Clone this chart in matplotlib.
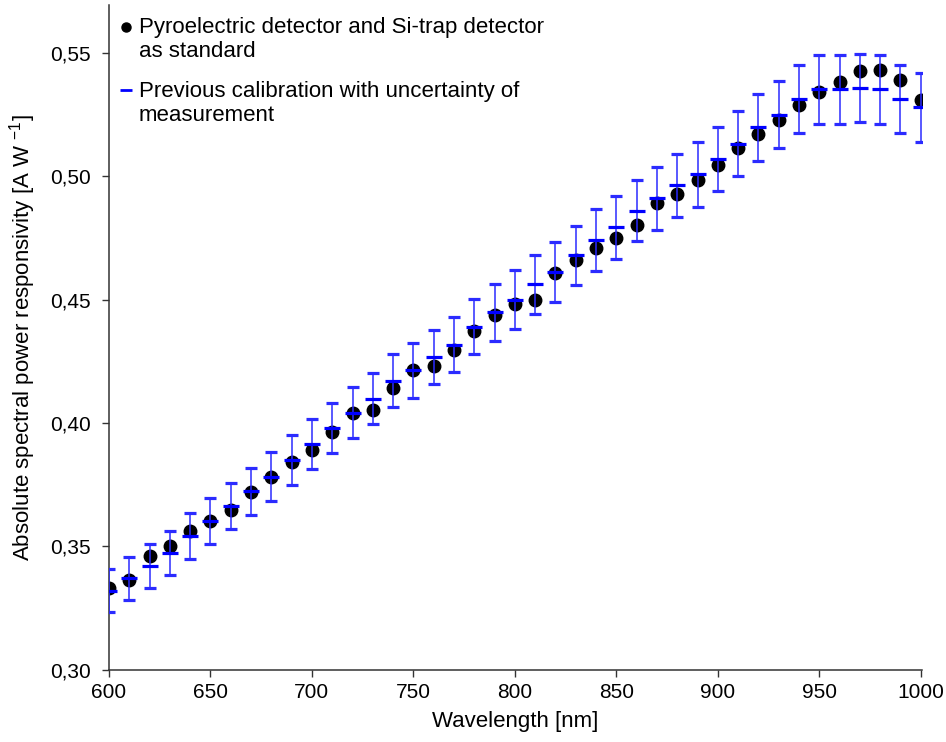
import numpy as np
import matplotlib.pyplot as plt
from matplotlib.lines import Line2D
from matplotlib.legend_handler import HandlerLine2D
from matplotlib.ticker import FuncFormatter

plt.rcParams['font.family'] = ['Liberation Sans', 'DejaVu Sans']
plt.rcParams['mathtext.fontset'] = 'custom'
plt.rcParams['mathtext.rm'] = 'Liberation Sans'
plt.rcParams['mathtext.default'] = 'regular'

wavelength = np.arange(600, 1001, 10)

# pyroelectric + Si-trap standard
resp_new = [0.3330, 0.3363, 0.3462, 0.3501, 0.3562, 0.3601, 0.3647, 0.3719, 0.3782, 0.3843,
            0.3891, 0.3963, 0.4042, 0.4053, 0.4140, 0.4215, 0.4231, 0.4297, 0.4371, 0.4438,
            0.4483, 0.4500, 0.4606, 0.4662, 0.4708, 0.4748, 0.4804, 0.4890, 0.4930, 0.4985,
            0.5047, 0.5114, 0.5172, 0.5227, 0.5290, 0.5344, 0.5381, 0.5426, 0.5432, 0.5392,
            0.5308]

# previous calibration
resp_prev = [0.3320, 0.3370, 0.3421, 0.3472, 0.3541, 0.3601, 0.3664, 0.3722, 0.3782, 0.3850,
             0.3913, 0.3980, 0.4042, 0.4099, 0.4172, 0.4213, 0.4268, 0.4318, 0.4391, 0.4448,
             0.4500, 0.4562, 0.4612, 0.4679, 0.4743, 0.4793, 0.4861, 0.4911, 0.4963, 0.5008,
             0.5071, 0.5133, 0.5199, 0.5250, 0.5313, 0.5353, 0.5353, 0.5359, 0.5353, 0.5313,
             0.5280]

unc_prev = [0.0087, 0.0088, 0.0090, 0.0089, 0.0093, 0.0093, 0.0093, 0.0095, 0.0099, 0.0101,
            0.0101, 0.0100, 0.0105, 0.0103, 0.0107, 0.0110, 0.0110, 0.0112, 0.0112, 0.0116,
            0.0119, 0.0119, 0.0122, 0.0121, 0.0125, 0.0127, 0.0125, 0.0127, 0.0127, 0.0133,
            0.0130, 0.0133, 0.0136, 0.0135, 0.0139, 0.0139, 0.0139, 0.0138, 0.0139, 0.0139,
            0.0139]

labels = ['Pyroelectric detector and Si-trap detector\nas standard',
          'Previous calibration with uncertainty of\nmeasurement']


class FirstLineHandler(HandlerLine2D):
    '''
    puts the legend marker next to the first line of a two-line label
    '''
    def create_artists(self, legend, orig_handle, xdescent, ydescent,
                       width, height, fontsize, trans):
        arts = super().create_artists(legend, orig_handle, xdescent, ydescent,
                                      width, height, fontsize, trans)
        for a in arts:
            a.set_ydata(np.asarray(a.get_ydata()) + 0.6 * fontsize)
        return arts


fig = plt.figure(figsize=(9.46, 7.42), dpi=100)
ax = fig.add_axes([0.1152, 0.0977, 0.8594, 0.8956])

ax.plot(wavelength, resp_new, 'o', color='black', markersize=9, zorder=2)
ax.errorbar(wavelength, resp_prev, yerr=unc_prev, fmt='_', color='#0000ff',
            markersize=12, markeredgewidth=2.3, ecolor='#2b2bff', elinewidth=1.1,
            capsize=4, capthick=1.1, zorder=3)

ax.set_xlim(600, 1000.6)
ax.set_ylim(0.30, 0.5695)
ax.set_xticks(np.arange(600, 1001, 50))
ax.set_yticks(np.arange(0.30, 0.551, 0.05))
ax.yaxis.set_major_formatter(FuncFormatter(lambda v, p: '{:.2f}'.format(v).replace('.', ',')))

for s in ['top', 'right']:
    ax.spines[s].set_visible(False)
for s in ['left', 'bottom']:
    ax.spines[s].set_color('#333333')
    ax.spines[s].set_linewidth(1.1)
ax.tick_params(direction='out', length=5, width=1.0, color='#333333', labelsize=15)
ax.tick_params(axis='y', pad=8)
ax.tick_params(axis='x', pad=5)

ax.set_xlabel('Wavelength [nm]', fontsize=16, labelpad=6)
ax.set_ylabel('Absolute spectral power responsivity [A W $^{-1}$]', fontsize=16, labelpad=9)

# legend: plain dot and plain dash, no error bar glyph
handles = [Line2D([], [], ls='none', marker='o', color='black', markersize=6.5),
           Line2D([], [], ls='none', marker='_', color='#0000ff', markersize=9,
                  markeredgewidth=2)]
ax.legend(handles, labels, loc='upper left', bbox_to_anchor=(-0.0123, 1.0135), frameon=False,
          fontsize=16, handlelength=0.5, handletextpad=0.35, labelspacing=0.82,
          borderaxespad=0.55, handler_map={Line2D: FirstLineHandler()})

fig.savefig('out.png', dpi=100)
